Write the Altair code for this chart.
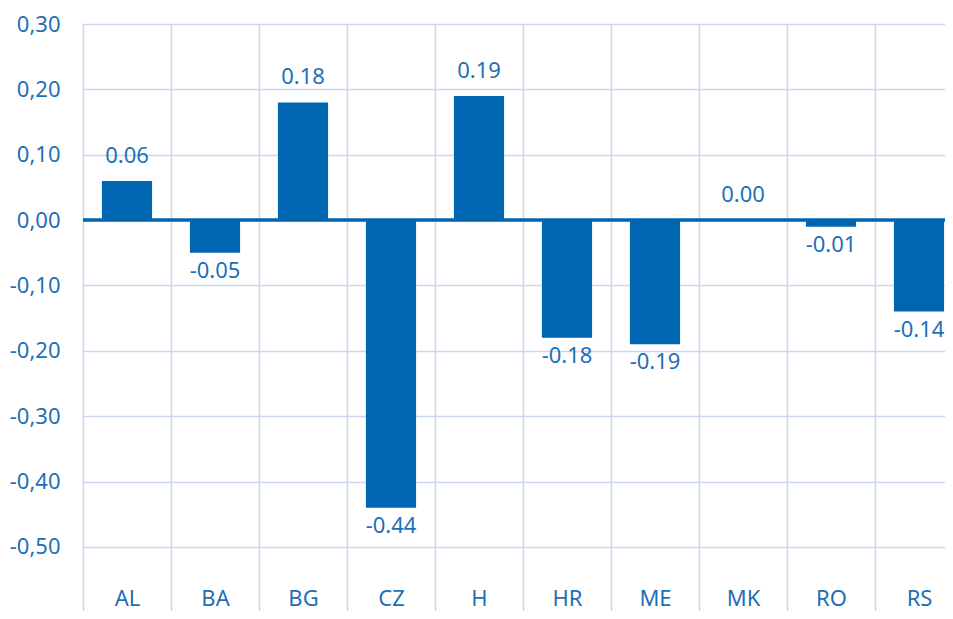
import altair as alt
import pandas as pd

countries = ["AL", "BA", "BG", "CZ", "H", "HR", "ME", "MK", "RO", "RS"]
values = [0.06, -0.05, 0.18, -0.44, 0.19, -0.18, -0.19, 0.00, -0.01, -0.14]
y_ticks = [0.3, 0.2, 0.1, 0.0, -0.1, -0.2, -0.3, -0.4, -0.5]

df = pd.DataFrame({"country": countries, "value": values})
df["label"] = [f"{v:.2f}" for v in values]

BAR = "#0066b1"
TXT = "#1f6fb6"
GRID = "#cbd6ef"
FONT = "Noto Sans"

x_scale = alt.Scale(paddingInner=0, paddingOuter=0)
x_enc = alt.X(
    "country:N",
    sort=countries,
    scale=x_scale,
    axis=alt.Axis(
        title=None,
        domain=False,
        tickBand="extent",
        grid=True,
        gridColor=GRID,
        gridWidth=1.5,
        ticks=False,
        labelPadding=-23,
        labelAngle=0,
        labelBaseline="top",
        labelFont=FONT,
        labelFontSize=22,
        labelColor=TXT,
    ),
)
y_scale = alt.Scale(domain=[-0.598, 0.3], nice=False, zero=False)
y_axis = alt.Axis(
    title=None,
    values=y_ticks,
    domain=False,
    ticks=False,
    grid=True,
    gridColor=GRID,
    gridWidth=1.5,
    labelPadding=23,
    labelFont=FONT,
    labelFontSize=22,
    labelColor=TXT,
    labelExpr="(datum.value < -0.001 ? '-' : '') + replace(format(abs(datum.value), '.2f'), '.', ',')",
)

base = alt.Chart(df)
bars = base.mark_bar(color=BAR, width=alt.RelativeBandSize(0.57)).encode(
    x=x_enc,
    y=alt.Y("value:Q", scale=y_scale, axis=y_axis),
)
zero = alt.Chart(pd.DataFrame({"z": [0.0]})).mark_rule(color=BAR, strokeWidth=3.5).encode(
    y=alt.Y("z:Q", scale=y_scale)
)
lab_pos = base.transform_filter("datum.value >= 0").mark_text(
    baseline="bottom", dy=-13, font=FONT, fontSize=22, color=TXT
).encode(x=alt.X("country:N", sort=countries, scale=x_scale), y=alt.Y("value:Q", scale=y_scale), text="label:N")
lab_neg = base.transform_filter("datum.value < 0").mark_text(
    baseline="top", dy=8, font=FONT, fontSize=22, color=TXT
).encode(x=alt.X("country:N", sort=countries, scale=x_scale), y=alt.Y("value:Q", scale=y_scale), text="label:N")

chart = (
    alt.layer(bars, zero, lab_pos, lab_neg)
    .properties(
        width=880,
        height=587,
        autosize=alt.AutoSizeParams(type="none"),
        padding={"left": 75, "top": 16, "right": -18, "bottom": 0},
    )
    .configure_view(strokeWidth=0, stroke="white")
    .configure_axis(domain=False)
    .configure(background="white")
)
chart.save("out.html", embed_options={"renderer": "svg", "actions": False})
